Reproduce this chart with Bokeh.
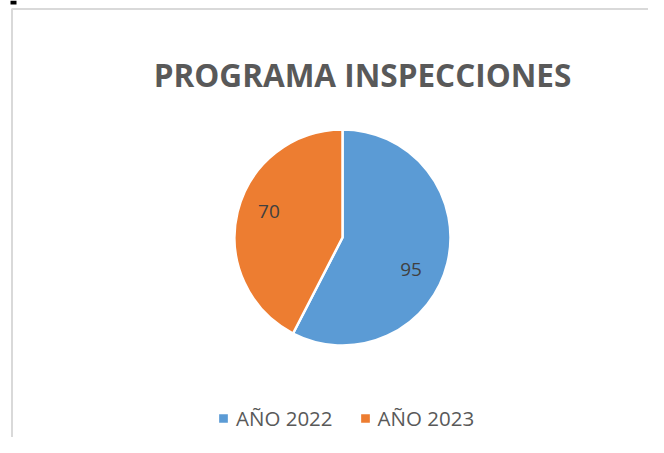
import math
from bokeh.plotting import figure
from bokeh.models import Range1d, Legend, LegendItem, ColumnDataSource
from bokeh.core.properties import value
from bokeh.embed import file_html
from bokeh.resources import INLINE

# ---- data ----
categories = ["AÑO 2022", "AÑO 2023"]
values = [95, 70]
colors = ["#5B9BD5", "#ED7D31"]
title_text = "PROGRAMA INSPECCIONES"

# ---- layout ----
W, H = 648, 437
FONT = "Open Sans"
cx, cy, R = 342, 200, 108
label_dx = [-7, 2]     # small label nudges (px)
label_dy = [14, -8]

total = sum(values)
starts, ends, lx, ly, labels = [], [], [], [], []
a = math.pi / 2
for v in values:
    sweep = 2 * math.pi * v / total
    starts.append(a)
    ends.append(a - sweep)
    mid = a - sweep / 2
    lx.append(cx + 0.72 * R * math.cos(mid))
    ly.append(cy + 0.72 * R * math.sin(mid))
    labels.append(str(v))
    a -= sweep

src = ColumnDataSource(dict(cat=categories, val=values, color=colors,
                            start=starts, end=ends))
lsrc = ColumnDataSource(dict(x=lx, y=ly, text=labels, dx=label_dx, dy=label_dy))

p = figure(width=W, height=H, output_backend="svg", toolbar_location=None,
           x_range=Range1d(0, W), y_range=Range1d(0, H),
           min_border=0, outline_line_color=None)
p.axis.visible = False
p.grid.visible = False

# small black mark in the top-left corner
p.quad(left=[10], right=[16], top=[H], bottom=[H - 4],
       fill_color="black", line_color=None)
# chart-area frame (light gray)
p.quad(left=[11.5], right=[W + 20], top=[H - 8.5], bottom=[-20],
       fill_color=None, line_color="#d9d9d9", line_width=2)

r = p.wedge(x=cx, y=cy, radius=R, start_angle="start", end_angle="end",
            direction="clock", fill_color="color", line_color="white",
            line_width=2.5, source=src)

p.text(x="x", y="y", text="text", x_offset="dx", y_offset="dy", source=lsrc,
       text_align="center", text_baseline="middle",
       text_font=value(FONT), text_font_size="19px", text_color="#404040")

p.text(x=[362], y=[363], text=[title_text], text_align="center",
       text_baseline="alphabetic", text_font=value(FONT),
       text_font_style="bold", text_font_size="31.5px", text_color="#595959")

legend = Legend(items=[LegendItem(label=c, renderers=[r], index=i)
                       for i, c in enumerate(categories)],
                orientation="horizontal", location=(216, 5),
                glyph_width=14, glyph_height=14, label_standoff=6, spacing=25,
                padding=0, margin=0, border_line_color=None,
                background_fill_alpha=0,
                label_text_font=FONT, label_text_font_size="20.5px",
                label_text_color="#595959")
p.add_layout(legend)

open("out.html", "w").write(file_html(p, INLINE))
